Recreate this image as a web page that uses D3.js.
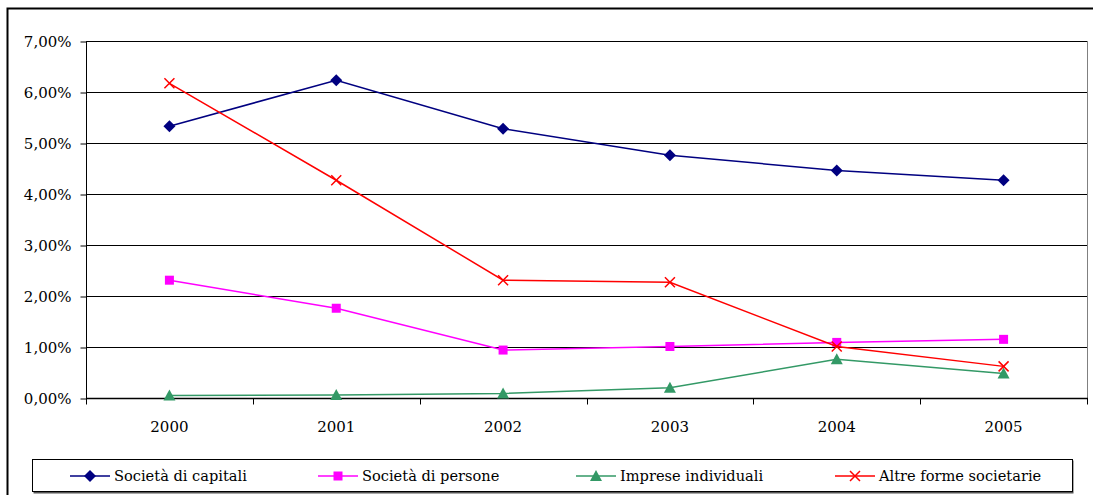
<!DOCTYPE html>
<html>
<head>
<meta charset="utf-8">
<script src="https://cdn.jsdelivr.net/npm/d3@7"></script>
<style>
  body { margin: 0; background: #fff; }
</style>
</head>
<body>
<div class="svg-container"></div>
<script>
// data
const years = ["2000", "2001", "2002", "2003", "2004", "2005"];
const capitali = [5.33, 6.23, 5.28, 4.76, 4.46, 4.27];
const persone = [2.31, 1.76, 0.94, 1.01, 1.09, 1.15];
const individuali = [0.05, 0.06, 0.09, 0.20, 0.76, 0.48];
const altre = [6.17, 4.27, 2.31, 2.27, 1.01, 0.62];
const yTicks = [0, 1, 2, 3, 4, 5, 6, 7];

const series = [
  { name: "Società di capitali", values: capitali, color: "#000080", marker: "diamond" },
  { name: "Società di persone", values: persone, color: "#ff00ff", marker: "square" },
  { name: "Imprese individuali", values: individuali, color: "#339966", marker: "triangle" },
  { name: "Altre forme societarie", values: altre, color: "#ff0000", marker: "cross" }
];

const w = 1093;
const h = 495;
const plot = { left: 86, right: 1087, top: 41, bottom: 398 };
const serif = "DejaVu Serif";

const svg = d3.select(".svg-container")
  .append("svg")
  .attr("width", w)
  .attr("height", h);

// outer frame
svg.append("rect")
  .attr("x", 7.5).attr("y", 8.5)
  .attr("width", 1110).attr("height", 520)
  .attr("fill", "none")
  .attr("stroke", "#000")
  .attr("stroke-width", 2);

// scales
const xScale = d3.scaleBand()
  .domain(years)
  .range([plot.left, plot.right]);

const yScale = d3.scaleLinear()
  .domain([0, 7])
  .range([plot.bottom, plot.top]);

// gridlines
svg.append("g")
  .selectAll("line")
  .data(yTicks.filter(d => d > 0))
  .enter()
  .append("line")
  .attr("x1", plot.left).attr("x2", plot.right)
  .attr("y1", d => Math.round(yScale(d)) + 0.5)
  .attr("y2", d => Math.round(yScale(d)) + 0.5)
  .attr("stroke", "#000")
  .attr("stroke-width", 1);

// right border of plot
svg.append("line")
  .attr("x1", plot.right + 0.5).attr("x2", plot.right + 0.5)
  .attr("y1", plot.top).attr("y2", plot.bottom)
  .attr("stroke", "#808080");

// AXIS
const yAxis = d3.axisLeft(yScale)
  .tickValues(yTicks)
  .tickSize(6)
  .tickPadding(9)
  .tickFormat(d => d.toFixed(2).replace(".", ",") + "%");

const gy = svg.append("g")
  .attr("transform", "translate(" + (plot.left + 0.5) + ",0.5)")
  .call(yAxis)
  .attr("font-family", serif)
  .attr("font-size", 15);
gy.select(".domain").attr("stroke", "#000").attr("d", "M0," + plot.top + "V" + (plot.bottom + 5));
gy.selectAll("text").attr("fill", "#000");

const gx = svg.append("g")
  .attr("transform", "translate(0," + (plot.bottom + 0.5) + ")");
gx.append("line")
  .attr("x1", plot.left).attr("x2", plot.right + 1)
  .attr("stroke", "#000").attr("stroke-width", 1.5);
gx.selectAll(".tk")
  .data(years.concat(["end"]))
  .enter()
  .append("line")
  .attr("class", "tk")
  .attr("x1", (d, i) => Math.round(plot.left + i * xScale.bandwidth()) + 0.5)
  .attr("x2", (d, i) => Math.round(plot.left + i * xScale.bandwidth()) + 0.5)
  .attr("y1", 0).attr("y2", 6)
  .attr("stroke", "#000");
gx.selectAll(".lbl")
  .data(years)
  .enter()
  .append("text")
  .attr("class", "lbl")
  .attr("x", d => xScale(d) + xScale.bandwidth() / 2)
  .attr("y", 33)
  .attr("text-anchor", "middle")
  .attr("font-size", 15)
  .attr("font-family", serif)
  .text(d => d);

// markers
function drawMarker(g, type, color, x, y) {
  if (type === "diamond") {
    g.append("path")
      .attr("d", `M${x},${y - 6}L${x + 6},${y}L${x},${y + 6}L${x - 6},${y}Z`)
      .attr("fill", color);
  } else if (type === "square") {
    g.append("rect")
      .attr("x", x - 4.5).attr("y", y - 4.5)
      .attr("width", 9).attr("height", 9)
      .attr("fill", color);
  } else if (type === "triangle") {
    g.append("path")
      .attr("d", `M${x},${y - 6}L${x + 6},${y + 5}L${x - 6},${y + 5}Z`)
      .attr("fill", color);
  } else {
    g.append("path")
      .attr("d", `M${x - 5},${y - 5}L${x + 5},${y + 5}M${x + 5},${y - 5}L${x - 5},${y + 5}`)
      .attr("stroke", color)
      .attr("stroke-width", 1.5)
      .attr("fill", "none");
  }
}

// LINES
const line = d3.line()
  .x((d, i) => xScale(years[i]) + xScale.bandwidth() / 2)
  .y(d => yScale(d));

series.forEach(s => {
  const g = svg.append("g");
  g.append("path")
    .datum(s.values)
    .attr("d", line)
    .attr("fill", "none")
    .attr("stroke", s.color)
    .attr("stroke-width", 1.5);
  s.values.forEach((v, i) => {
    drawMarker(g, s.marker, s.color, xScale(years[i]) + xScale.bandwidth() / 2, yScale(v));
  });
});

// legend
const legend = svg.append("g");
legend.append("rect")
  .attr("x", 33.5).attr("y", 460.5)
  .attr("width", 1040).attr("height", 33)
  .attr("fill", "#555");
legend.append("rect")
  .attr("x", 32.5).attr("y", 459.5)
  .attr("width", 1040).attr("height", 32)
  .attr("fill", "#fff")
  .attr("stroke", "#000");

const legendX = [70, 318, 576, 835];
series.forEach((s, i) => {
  const lx = legendX[i];
  const ly = 476;
  legend.append("line")
    .attr("x1", lx).attr("x2", lx + 40)
    .attr("y1", ly).attr("y2", ly)
    .attr("stroke", s.color)
    .attr("stroke-width", 1.5);
  drawMarker(legend, s.marker, s.color, lx + 20, ly);
  legend.append("text")
    .attr("x", lx + 44)
    .attr("y", ly + 5)
    .attr("font-size", 14.6)
    .attr("font-family", serif)
    .text(s.name);
});
</script>
</body>
</html>
